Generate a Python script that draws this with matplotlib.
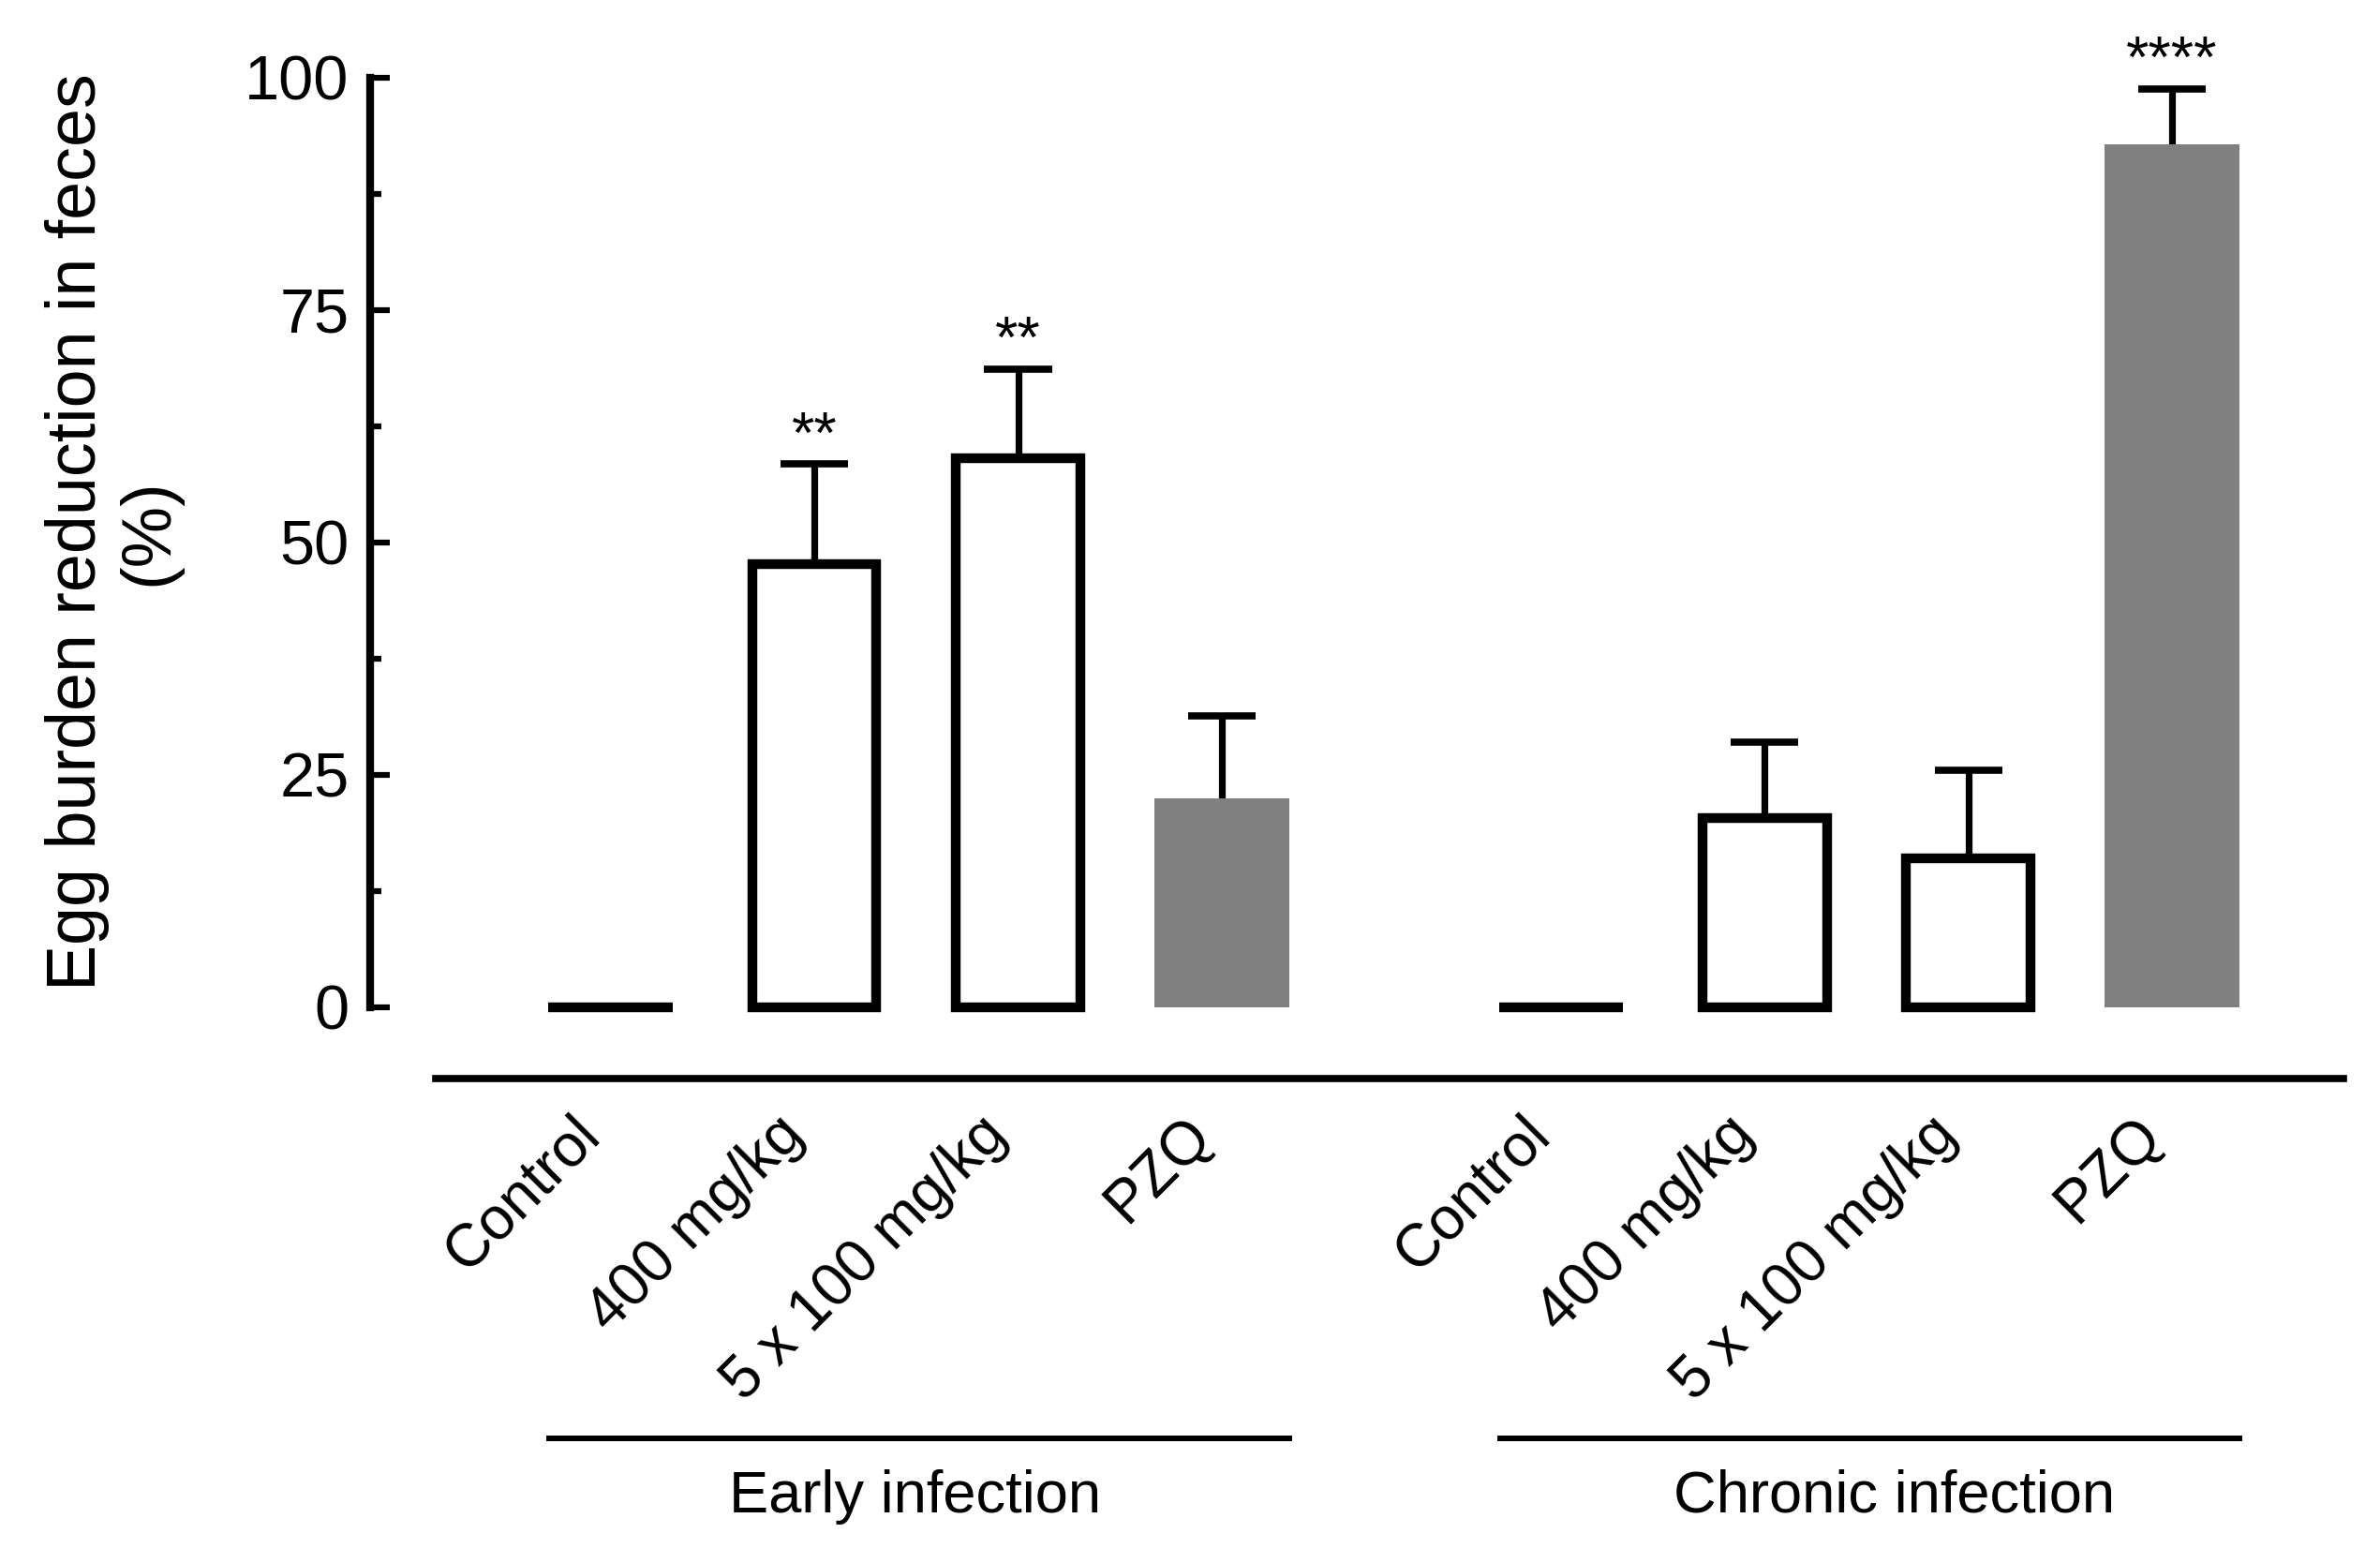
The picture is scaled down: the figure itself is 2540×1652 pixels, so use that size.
import numpy as np
import matplotlib
matplotlib.use("Agg")
import matplotlib.pyplot as plt
from matplotlib.ticker import MultipleLocator
import matplotlib.transforms as mtransforms

plt.rcParams['font.family'] = ['Liberation Sans', 'DejaVu Sans']

# data
treatments = ["Control", "400 mg/kg", "5 x 100 mg/kg", "PZQ"]
groups = ["Early infection", "Chronic infection"]
early_mean = [0.0, 47.7, 59.0, 22.5]
early_sem = [0.0, 10.7, 9.6, 8.8]
chronic_mean = [0.0, 20.4, 16.0, 92.8]
chronic_sem = [0.0, 8.1, 9.5, 6.0]
early_stars = ["", "**", "**", ""]
chronic_stars = ["", "", "", "****"]
is_pzq = [False, False, False, True]

group_gap = 4.665
pos_early = np.arange(len(treatments))
pos_chronic = pos_early + group_gap

x = np.concatenate([pos_early, pos_chronic])
means = np.array(early_mean + chronic_mean)
sems = np.array(early_sem + chronic_sem)
stars = early_stars + chronic_stars
pzq = is_pzq + is_pzq

fig = plt.figure(figsize=(25.4, 16.52), dpi=100)
ax = fig.add_axes([0.1555, 0.3493, 0.8291, 0.6007])

# error bars (upper only) behind the bars
has_err = sems > 0
ax.vlines(x[has_err], means[has_err], means[has_err] + sems[has_err],
          color='black', lw=5.2, zorder=1)
ax.hlines(means[has_err] + sems[has_err], x[has_err] - 0.166, x[has_err] + 0.166,
          color='black', lw=5.5, zorder=1)

for xi, m, p in zip(x, means, pzq):
    if p:
        ax.bar(xi, m, width=0.66, color='#808080', edgecolor='none',
               zorder=2, clip_on=False)
    else:
        ax.bar(xi, m, width=0.61, color='white', edgecolor='black',
               linewidth=7.5, zorder=2, clip_on=False)

for xi, m, s, st in zip(x, means, sems, stars):
    if st:
        ax.text(xi, m + s + 1.3, st, ha='center', va='baseline', fontsize=45)

ax.set_ylim(0, 100)
ax.set_xlim(-1.181, 8.506)

ax.spines['top'].set_visible(False)
ax.spines['right'].set_visible(False)
ax.spines['left'].set_linewidth(6.0)
ax.spines['left'].set_bounds(0, 100)
ax.spines['bottom'].set_position(('outward', 54.7))
ax.spines['bottom'].set_bounds(-0.857, 8.506)
ax.spines['bottom'].set_linewidth(5.5)

ax.yaxis.set_major_locator(MultipleLocator(25))
ax.yaxis.set_minor_locator(MultipleLocator(12.5))
ax.tick_params(axis='y', which='major', direction='in', length=15, width=4.5,
               pad=16, labelsize=48)
ax.tick_params(axis='y', which='minor', direction='in', length=8.6, width=4.5)

ax.set_xticks(x)
ax.set_xticklabels(treatments + treatments, rotation=45, ha='right',
                   va='top', fontsize=46)
ax.tick_params(axis='x', length=0, pad=21)

ax.set_ylabel("Egg burden reduction in feces\n(%)", fontsize=53,
              linespacing=1.15)
ax.yaxis.set_label_coords(-0.0955, 0.511)

# group brackets below the tick labels
trans = mtransforms.blended_transform_factory(ax.transData, ax.transAxes)
label_shift = [-0.02, 0.12]
for pos, name, sh in zip([pos_early, pos_chronic], groups, label_shift):
    x0 = pos[0] - 0.30
    x1 = pos[-1] + 0.33
    ax.plot([x0, x1], [-0.4635, -0.4635], color='black', lw=4.3,
            transform=trans, clip_on=False)
    ax.text((x0 + x1) / 2 + sh, -0.543, name, transform=trans,
            ha='center', va='baseline', fontsize=45.5)

fig.savefig("out.png", dpi=100)
